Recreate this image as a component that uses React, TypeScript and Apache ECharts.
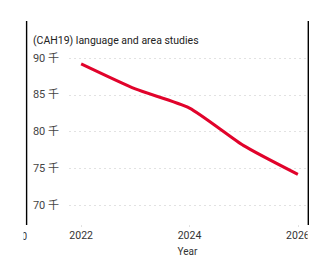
import React, { useEffect, useRef } from "react";
import * as echarts from "echarts";

const title = "(CAH19) language and area studies";
const years = [2022, 2023, 2024, 2025, 2026];
const values = [89.2, 85.8, 83.2, 78.1, 74.2];
const yearTicks = [2022, 2024, 2026];
const unitSuffix = " 千";
const xName = "Year";

const FONT = "Roboto, 'Noto Sans CJK JP', sans-serif";

export default function App() {
  const ref = useRef<HTMLDivElement>(null);

  useEffect(() => {
    if (!ref.current) return;
    const chart = echarts.init(ref.current, undefined, { renderer: "svg" });
    chart.setOption({
      animation: false,
      backgroundColor: "#ffffff",
      textStyle: { fontFamily: FONT },
      title: {
        text: title,
        left: 28,
        top: 30,
        textStyle: { fontSize: 10.5, fontWeight: "normal", color: "#222", fontFamily: FONT },
      },
      grid: { left: 69, right: 21, top: 58, bottom: 66.7, containLabel: false },
      xAxis: {
        type: "value",
        min: 2021.776,
        max: 2026.15,
        offset: 20,
        name: xName,
        nameLocation: "middle",
        nameGap: 21,
        nameTextStyle: { fontSize: 10, color: "#333", fontFamily: FONT },
        axisLine: { show: false },
        axisTick: {
          show: true,
          length: 1.5,
          lineStyle: { color: "#d8d8d8" },
          customValues: yearTicks,
        },
        axisLabel: {
          fontSize: 10.5,
          color: "#333",
          margin: 5,
          customValues: yearTicks,
          formatter: (v: number) => String(v),
          fontFamily: FONT,
        },
        splitLine: { show: false },
      },
      yAxis: {
        type: "value",
        min: 70,
        max: 90,
        interval: 5,
        axisLine: { show: false },
        axisTick: { show: false },
        axisLabel: {
          fontSize: 11,
          color: "#444",
          margin: 10,
          formatter: (v: number) => `${v}${unitSuffix}`,
          fontFamily: FONT,
        },
        splitLine: { show: true, lineStyle: { color: "#e2e2e2", type: [2, 3], width: 1 } },
      },
      series: [
        {
          type: "line",
          data: years.map((y, i) => [y, values[i]]),
          smooth: 0.2,
          showSymbol: false,
          lineStyle: { color: "#e1032b", width: 3 },
          itemStyle: { color: "#e1032b" },
        },
      ],
      graphic: [
        {
          type: "text",
          x: 27,
          y: 236,
          z: 10,
          style: { text: "2020", fontSize: 10, fill: "#333", align: "right", verticalAlign: "middle", fontFamily: FONT },
        },
        { type: "rect", x: 0, y: 228, z: 11, shape: { width: 23.5, height: 18 }, style: { fill: "#fff" } },
        { type: "rect", x: 307.6, y: 228, z: 11, shape: { width: 19.4, height: 18 }, style: { fill: "#fff" } },
        { type: "line", z: 12, shape: { x1: 26.6, y1: 21, x2: 26.6, y2: 225 }, style: { stroke: "#000", lineWidth: 1.4 } },
        { type: "line", z: 12, shape: { x1: 308.3, y1: 21, x2: 308.3, y2: 225 }, style: { stroke: "#000", lineWidth: 1.4 } },
      ],
    });
    return () => chart.dispose();
  }, []);

  return <div ref={ref} style={{ position: "absolute", left: 0, top: 0, width: 327, height: 272 }} />;
}
